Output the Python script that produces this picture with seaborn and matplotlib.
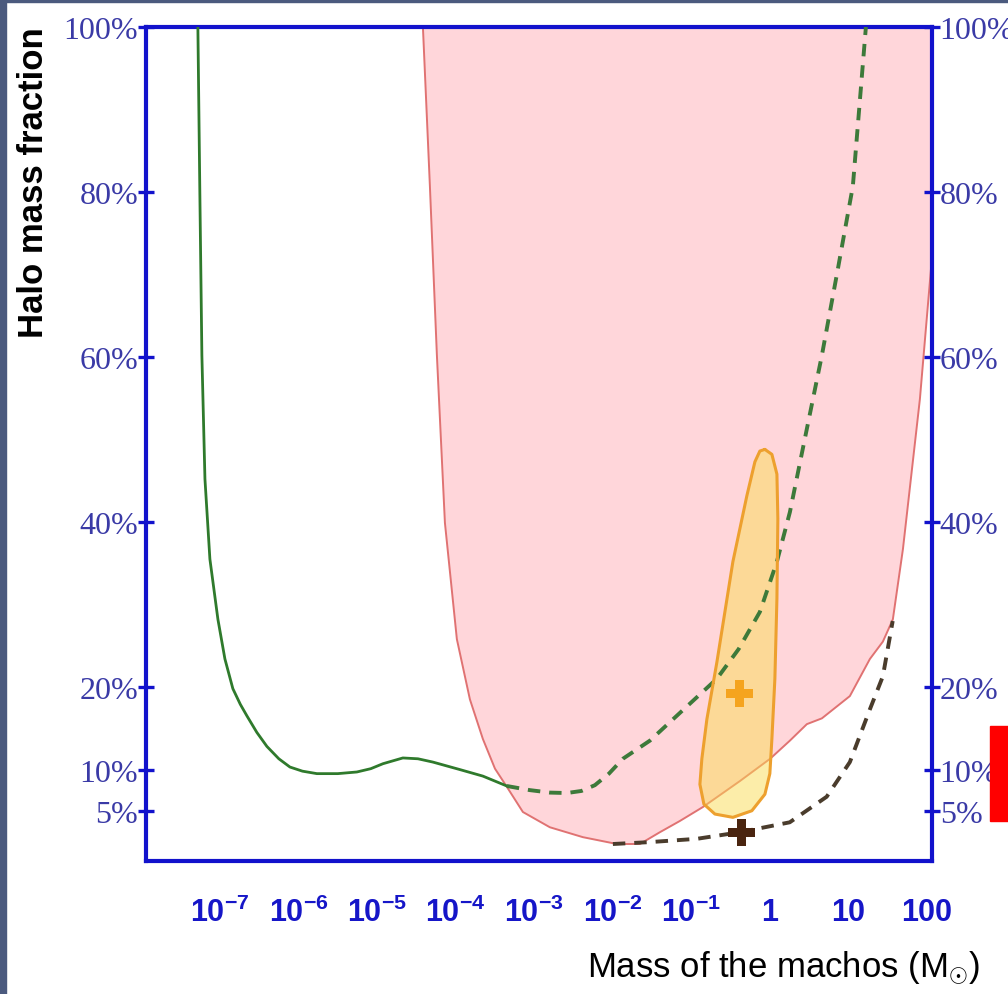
import numpy as np
import pandas as pd
import matplotlib
matplotlib.use("Agg")
import matplotlib.pyplot as plt
import seaborn as sns
from matplotlib.patches import Rectangle
from matplotlib import font_manager

# ---------------- data (log10 of mass in solar masses, halo fraction in %) ----------------
green_solid_logm = [-7.28, -7.254, -7.229, -7.19, -7.127, -7.025, -6.936, -6.835, -6.74, -6.656,
                    -6.53, -6.402, -6.25, -6.109, -5.95, -5.766, -5.5, -5.257, -5.08, -4.926,
                    -4.672, -4.48, -4.29, -3.95, -3.654, -3.349]
green_solid_frac = [100, 79.2, 60.2, 45.2, 35.5, 28.2, 23.4, 19.8, 17.9, 16.5,
                    14.5, 12.8, 11.3, 10.3, 9.8, 9.5, 9.5, 9.7, 10.1, 10.7,
                    11.4, 11.3, 10.9, 10.0, 9.2, 8.0]

green_dash_logm = [-3.349, -3.056, -2.8, -2.585, -2.4, -2.229, -2.05, -1.873, -1.529, -1.109,
                   -0.677, -0.4, -0.13, 0.087, 0.252, 0.468, 0.659, 0.863, 1.053, 1.219]
green_dash_frac = [8.0, 7.5, 7.2, 7.15, 7.4, 8.1, 9.5, 11.3, 13.5, 17.2,
                   21.0, 24.6, 29.1, 35.2, 41.2, 51.3, 60.2, 70.7, 80.7, 100]

pink_logm = [-4.417, -4.328, -4.239, -4.137, -3.985, -3.819, -3.654, -3.5, -3.349, -3.145,
             -2.802, -2.382, -1.949, -1.656, -1.402, -1.148, -0.855, -0.384, 0.0, 0.252,
             0.468, 0.659, 1.015, 1.27, 1.435, 1.562, 1.69, 1.906, 2.058, 2.224]
pink_frac = [100, 80.7, 60.2, 39.9, 25.8, 18.5, 13.7, 10.1, 7.9, 4.85,
             3.0, 1.8, 0.97, 0.97, 2.4, 3.76, 5.45, 8.6, 11.3, 13.5,
             15.5, 16.2, 18.9, 23.4, 25.5, 28.2, 36.7, 54.9, 71.9, 85.2]

brown_logm = [-2.0, -1.53, -0.93, -0.384, 0.25, 0.72, 1.015, 1.27, 1.435, 1.56]
brown_frac = [0.97, 1.2, 1.6, 2.4, 3.6, 6.7, 10.9, 17.3, 21.3, 28.0]

orange_logm = [-0.066, 0.023, 0.087, 0.099, 0.087, 0.061, 0.023, -0.003, -0.066, -0.232,
               -0.473, -0.702, -0.842, -0.893, -0.868, -0.804, -0.677, -0.473, -0.295,
               -0.193, -0.13, -0.066]
orange_frac = [48.8, 48.2, 45.8, 40.4, 30.7, 21.0, 13.7, 9.5, 7.0, 5.0,
               4.2, 4.6, 5.8, 8.2, 11.3, 16.1, 23.0, 35.2, 43.2,
               47.3, 48.6, 48.8]

best_fit_logm = [-0.384]
best_fit_frac = [19.2]
lower_point_logm = [-0.359]
lower_point_frac = [2.4]

x_tick_exponents = [-7, -6, -5, -4, -3, -2, -1, 0, 1, 2]
x_tick_labels = [r"$\mathbf{10^{-7}}$", r"$\mathbf{10^{-6}}$", r"$\mathbf{10^{-5}}$",
                 r"$\mathbf{10^{-4}}$", r"$\mathbf{10^{-3}}$", r"$\mathbf{10^{-2}}$",
                 r"$\mathbf{10^{-1}}$", r"$\mathbf{1}$", r"$\mathbf{10}$", r"$\mathbf{100}$"]
y_ticks = [5, 10, 20, 40, 60, 80, 100]
y_tick_labels = ["5%", "10%", "20%", "40%", "60%", "80%", "100%"]

# ---------------- style ----------------
sns.set_theme(style="white")
plt.rcParams["font.family"] = ["Liberation Sans", "DejaVu Sans"]
plt.rcParams["mathtext.fontset"] = "custom"
plt.rcParams["mathtext.rm"] = "Liberation Sans:bold"
plt.rcParams["mathtext.bf"] = "Liberation Sans:bold"
plt.rcParams["mathtext.it"] = "Liberation Sans:bold"

installed = {f.name for f in font_manager.fontManager.ttflist}
if "Liberation Sans Narrow" in installed:
    xlabel_family, xlabel_size = ["Liberation Sans Narrow", "DejaVu Sans"], 30
else:
    xlabel_family, xlabel_size = ["Liberation Sans", "DejaVu Sans"], 25

BLUE = "#1212cc"
TICKBLUE = "#3a3aa6"

fig = plt.figure(figsize=(10.08, 9.95), dpi=100)
fig.patch.set_facecolor("white")
ax = fig.add_axes([146 / 1008, 1 - 862 / 995, (932 - 146) / 1008, (862 - 28) / 995])
ax.set_facecolor("white")

def to_df(lm, fr):
    return pd.DataFrame({"mass": np.power(10.0, np.array(lm)), "frac": np.array(fr)})

# pink excluded region
pink = to_df(pink_logm, pink_frac)
poly_x = list(pink["mass"]) + [pink["mass"].iloc[-1], pink["mass"].iloc[0]]
poly_y = list(pink["frac"]) + [110, 110]
ax.fill(poly_x, poly_y, color="#ffd6da", lw=0, zorder=1)
sns.lineplot(data=pink, x="mass", y="frac", sort=False, estimator=None, ax=ax,
             color="#e07272", lw=1.4, zorder=2)

# green curves
sns.lineplot(data=to_df(green_solid_logm, green_solid_frac), x="mass", y="frac", sort=False,
             estimator=None, ax=ax, color="#2f7a2c", lw=2.0, zorder=4)
sns.lineplot(data=to_df(green_dash_logm, green_dash_frac), x="mass", y="frac", sort=False,
             estimator=None, ax=ax, color="#3d7a3a", lw=2.8, linestyle=(0, (3.2, 2.3)), zorder=4)

# brown dashed
sns.lineplot(data=to_df(brown_logm, brown_frac), x="mass", y="frac", sort=False,
             estimator=None, ax=ax, color="#4a3c2c", lw=2.8, linestyle=(0, (3.2, 2.3)), zorder=4)

# orange contour
orange = to_df(orange_logm, orange_frac)
ax.fill(orange["mass"], orange["frac"], color="#fbdd55", alpha=0.5, lw=0, zorder=3)
sns.lineplot(data=orange, x="mass", y="frac", sort=False, estimator=None, ax=ax,
             color="#eda02e", lw=2.2, zorder=5)

# markers
sns.scatterplot(data=to_df(best_fit_logm, best_fit_frac), x="mass", y="frac", ax=ax,
                marker="P", s=380, color="#f5a41e", edgecolor="none", zorder=6)
sns.scatterplot(data=to_df(lower_point_logm, lower_point_frac), x="mass", y="frac", ax=ax,
                marker="P", s=380, color="#4a2510", edgecolor="none", zorder=6)

# axes
ax.set_xscale("log")
ax.set_xlim(10 ** -7.94, 10 ** 2.06)
ax.set_ylim(-1.09, 100)
ax.set_xticks([10.0 ** e for e in x_tick_exponents])
ax.set_xticklabels(x_tick_labels)
ax.minorticks_off()
ax.set_yticks(y_ticks)
ax.set_yticklabels(y_tick_labels)
ax.set_xlabel("")
ax.set_ylabel("")
for sp in ax.spines.values():
    sp.set_color(BLUE)
    sp.set_linewidth(3.0)
    sp.set_visible(True)
ax.tick_params(axis="x", direction="in", length=9, width=2.4, color=BLUE, pad=26,
               labelsize=22, labelcolor="#1616c8")
ax.tick_params(axis="y", direction="inout", length=11, width=2.4, color=BLUE, pad=0,
               labelsize=23, labelcolor=TICKBLUE)
for t in ax.get_yticklabels():
    t.set_fontfamily(["Liberation Serif", "DejaVu Serif"])

ax2 = ax.twinx()
ax2.set_ylim(ax.get_ylim())
ax2.set_yticks(y_ticks)
ax2.set_yticklabels(y_tick_labels)
ax2.tick_params(axis="y", direction="inout", length=11, width=2.4, color=BLUE, pad=0,
                labelsize=23, labelcolor=TICKBLUE)
for t in ax2.get_yticklabels():
    t.set_fontfamily(["Liberation Serif", "DejaVu Serif"])
for sp in ax2.spines.values():
    sp.set_visible(False)
ax2.grid(False)
ax.grid(False)

# axis titles
fig.text(34 / 1008, 1 - 183 / 995, "Halo mass fraction", rotation=90, ha="center", va="center",
         fontsize=25, fontweight="bold", color="black", family=["Liberation Sans", "DejaVu Sans"])
fig.text(980 / 1008, 1 - 968 / 995, r"Mass of the machos (M$_{\odot}$)", ha="right", va="center",
         fontsize=xlabel_size, color="black", family=xlabel_family)

# decorative background strips and red box
fig.patches.append(Rectangle((0, 0), 6 / 1008, 1, transform=fig.transFigure,
                             color="#4b5a7e", zorder=0))
fig.patches.append(Rectangle((0, 1 - 3 / 995), 1, 3 / 995, transform=fig.transFigure,
                             color="#4b5a7e", zorder=0))
fig.patches.append(Rectangle((990 / 1008, 1 - 822 / 995), 18 / 1008, 95 / 995,
                             transform=fig.transFigure, color="#ff0000", zorder=10))

fig.savefig("out.png", dpi=100)
